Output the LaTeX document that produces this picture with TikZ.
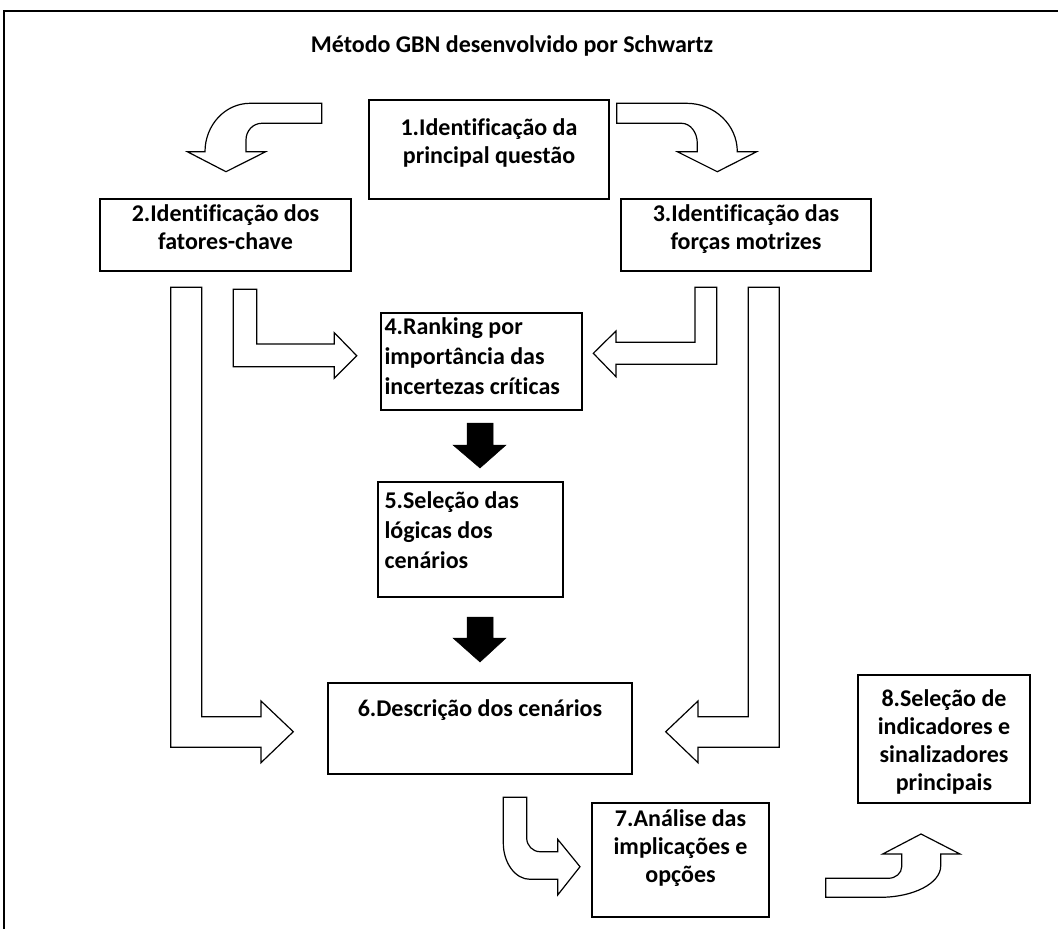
\documentclass[tikz,border=0pt]{standalone}
\usepackage{fontspec}
\setmainfont{Carlito}[Ligatures={NoCommon,NoContextual,NoRare}]
\begin{document}
\begin{tikzpicture}[x=1pt,y=-1pt,
  box/.style={draw, line width=1.3pt, minimum width=#1, inner sep=0pt},
  txt/.style={font=\fontsize{24}{28}\selectfont\bfseries, inner sep=0pt, align=center},
  ltxt/.style={font=\fontsize{24}{30}\selectfont\bfseries, inner sep=0pt, align=left},
  blockarrow/.style={draw, fill=white, line width=1.2pt, line join=miter},
  solidarrow/.style={fill=black, draw=black, line width=0.5pt}]
\path[use as bounding box] (0,0) rectangle (1058,929);

% outer frame (top and left edges)
\draw[line width=1.8pt] (1058,11) -- (4,11) -- (4,929);

\node[font=\fontsize{24}{29}\selectfont\bfseries, inner sep=0pt] (title) at (512,46) {Método GBN desenvolvido por Schwartz};

% process boxes
\node[box=240pt, minimum height=99pt] (b1) at (489,149.5) {};
\node[box=251pt, minimum height=72pt] (b2) at (225.5,235) {};
\node[box=250pt, minimum height=72pt] (b3) at (746,235) {};
\node[box=201pt, minimum height=97pt] (b4) at (481.5,361.5) {};
\node[box=185pt, minimum height=115pt] (b5) at (470.5,539.5) {};
\node[box=304pt, minimum height=91pt] (b6) at (480,728.5) {};
\node[box=177pt, minimum height=114pt] (b7) at (680.5,860) {};
\node[box=172pt, minimum height=128pt] (b8) at (944,739) {};

% box texts
\node[txt, anchor=north] (t1) at ([yshift=-19pt]b1.north) {1.Identificação da\\principal questão};
\node[txt, anchor=north] (t2) at ([yshift=-6pt]b2.north) {2.Identificação dos\\fatores-chave};
\node[txt, anchor=north] (t3) at ([yshift=-6pt]b3.north) {3.Identificação das\\forças motrizes};
\node[ltxt, anchor=north west] (t4) at ([xshift=4pt,yshift=-5pt]b4.north west) {4.Ranking por\\importância das\\incertezas críticas};
\node[ltxt, anchor=north west] (t5) at ([xshift=7pt,yshift=-10pt]b5.north west) {5.Seleção das\\lógicas dos\\cenários};
\node[txt, anchor=north] (t6) at ([yshift=-17pt]b6.north) {6.Descrição dos cenários};
\node[txt, anchor=north] (t7) at ([yshift=-7pt]b7.north) {7.Análise das\\implicações e\\opções};
\node[txt, anchor=north] (t8) at ([yshift=-15pt]b8.north) {8.Seleção de\\indicadores e\\sinalizadores\\principais};

% curved arrow from 1 towards 2
\draw[blockarrow] (321.7,103.3) -- (250,103.3)
  .. controls (225.2,103.3) and (205,125) .. (205,151.7)
  -- (187.3,151.7) -- (226,171.7) -- (265.7,151.7) -- (246,151.7) -- (246,140)
  .. controls (246,130.8) and (253,123.3) .. (261.7,123.3)
  -- (321.7,123.3) -- cycle;

% curved arrow from 1 towards 3
\draw[blockarrow] (616.7,103.3) -- (686.7,103.3)
  .. controls (714.6,103.3) and (737.3,125) .. (737.3,151.7)
  -- (756.7,151.7) -- (717.3,171.7) -- (677.3,151.7) -- (697.3,151.7) -- (697.3,143.3)
  .. controls (697.3,132.3) and (690.3,123.3) .. (681.7,123.3)
  -- (616.7,123.3) -- cycle;

% bent arrows into box 4
\draw[blockarrow] (233.3,289.3) -- (256.7,289.3) -- (256.7,344) -- (334.3,344)
  -- (334.3,332.7) -- (356.7,355.7) -- (334.3,378.3) -- (334.3,366.7)
  -- (233.3,366.7) -- cycle;
\draw[blockarrow] (716.7,287.3) -- (695,287.3) -- (695,342.3) -- (616,342.3)
  -- (616,331) -- (593.3,353.3) -- (616,376.7) -- (616,364.3)
  -- (716.7,364.3) -- cycle;

% long bent arrows into box 6
\draw[blockarrow] (170.7,287.3) -- (201.7,287.3) -- (201.7,716.7) -- (261,716.7)
  -- (261,701) -- (293.3,731.7) -- (261,762.7) -- (261,747.3)
  -- (170.7,747.3) -- cycle;
\draw[blockarrow] (779.3,287.3) -- (748.3,287.3) -- (748.3,716.7) -- (698,716.7)
  -- (698,701) -- (665.7,731.7) -- (698,762.7) -- (698,747.3)
  -- (779.3,747.3) -- cycle;

% solid arrows 4 -> 5 -> 6
\fill[solidarrow] (467,423) -- (493,423) -- (493,445) -- (506,445) -- (480,468)
  -- (453,445) -- (467,445) -- cycle;
\fill[solidarrow] (467,617) -- (493,617) -- (493,638) -- (506,638) -- (480,662)
  -- (453,638) -- (467,638) -- cycle;

% curved arrow 6 -> 7
\draw[blockarrow] (503.3,797.3) -- (526.7,797.3) -- (526.7,838)
  .. controls (526.7,845.6) and (532.7,851.7) .. (540,851.7)
  -- (557.7,851.7) -- (557.7,839.3) -- (580,866.7) -- (557.7,895) -- (557.7,879.3)
  -- (530,879.3) .. controls (515.3,879.3) and (503.3,863) .. (503.3,843) -- cycle;

% curved arrow 7 -> 8
\draw[blockarrow] (825.7,878.3) -- (888.3,878.3)
  .. controls (895.7,878.3) and (901.7,873.1) .. (901.7,866.7)
  -- (901.7,854) -- (882.7,854) -- (921,834) -- (960,854) -- (940.7,854) -- (940.7,866)
  .. controls (940.7,883.3) and (913.5,897.3) .. (880,897.3)
  -- (825.7,897.3) -- cycle;
\end{tikzpicture}
\end{document}
